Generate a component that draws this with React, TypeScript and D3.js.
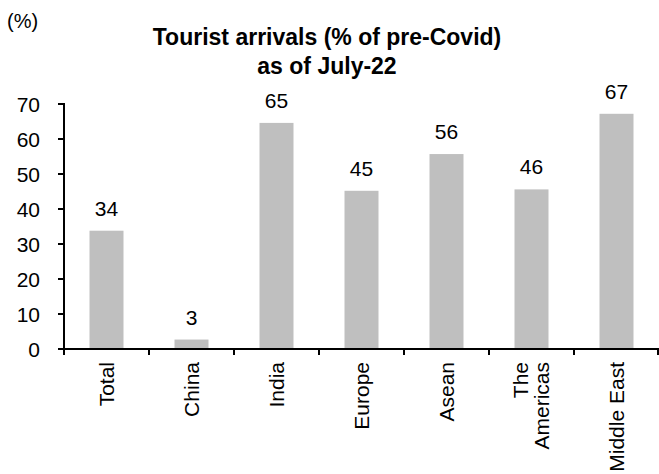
import React from "react";
import * as d3 from "d3";

const categories = ["Total", "China", "India", "Europe", "Asean", "The Americas", "Middle East"];
const categoryLines = [["Total"], ["China"], ["India"], ["Europe"], ["Asean"], ["The", "Americas"], ["Middle East"]];
const values = [33.8, 2.7, 64.6, 45.2, 55.7, 45.6, 67.2];
const yTicks = [0, 10, 20, 30, 40, 50, 60, 70];
const titleLines = ["Tourist arrivals (% of pre-Covid)", "as of July-22"];
const unitLabel = "(%)";

const W = 659;
const H = 474;
const FONT = "'Liberation Sans', Arial, sans-serif";

export default function App() {
  const left = 64;
  const right = 659;
  const yBottom = 349;
  const yTop = 104;
  const x = d3.scaleBand<string>().domain(categories).range([left, right]).paddingInner(0.6).paddingOuter(0.3);
  const xOuter = d3.scaleBand<string>().domain(categories).range([left, right]);
  const y = d3.scaleLinear().domain([0, 70]).range([yBottom, yTop]);
  const fmt = d3.format(".0f");
  const grey = "#bfbfbf";

  return (
    <svg width={W} height={H} style={{ position: "absolute", left: 0, top: 0 }} fontFamily={FONT}>
      <rect x={0} y={0} width={W} height={H} fill="#fff" />
      <text x={7} y={28} fontSize={20} fill="#000">{unitLabel}</text>
      {titleLines.map((t, i) => (
        <text key={t} x={327} y={45 + i * 29} textAnchor="middle" fontSize={23} fontWeight="bold" fill="#000">{t}</text>
      ))}
      {categories.map((c, i) => (
        <g key={c}>
          <rect x={x(c)} y={y(values[i])} width={x.bandwidth()} height={yBottom - y(values[i])} fill={grey} />
          <text x={(x(c) as number) + x.bandwidth() / 2} y={y(values[i]) - 15} textAnchor="middle" fontSize={21} fill="#000">{fmt(values[i])}</text>
        </g>
      ))}
      {/* y axis */}
      <line x1={left} x2={left} y1={yTop - 1} y2={yBottom} stroke="#000" strokeWidth={2} />
      {yTicks.map((t) => (
        <g key={t}>
          <line x1={left - 6} x2={left} y1={y(t)} y2={y(t)} stroke="#000" strokeWidth={2} />
          <text x={40} y={y(t)} dy="0.36em" textAnchor="end" fontSize={21} fill="#000">{t}</text>
        </g>
      ))}
      {/* x axis */}
      <line x1={left - 6} x2={right} y1={yBottom} y2={yBottom} stroke="#000" strokeWidth={2} />
      {categories.map((c) => (
        <line key={c} x1={xOuter(c)} x2={xOuter(c)} y1={yBottom} y2={yBottom + 6} stroke="#000" strokeWidth={2} />
      ))}
      <line x1={right - 1} x2={right - 1} y1={yBottom} y2={yBottom + 6} stroke="#000" strokeWidth={2} />
      {categories.map((c, i) => {
        const cx = (xOuter(c) as number) + xOuter.bandwidth() / 2;
        const lines = categoryLines[i];
        const n = lines.length;
        return (
          <text key={c} transform={`translate(${cx},${yBottom + 13}) rotate(-90)`} textAnchor="end" fontSize={21} fill="#000">
            {lines.map((l, j) => (
              <tspan key={l} x={0} y={0} dy={`${0.35 + (j - (n - 1) / 2) * 1.0}em`}>{l}</tspan>
            ))}
          </text>
        );
      })}
    </svg>
  );
}
